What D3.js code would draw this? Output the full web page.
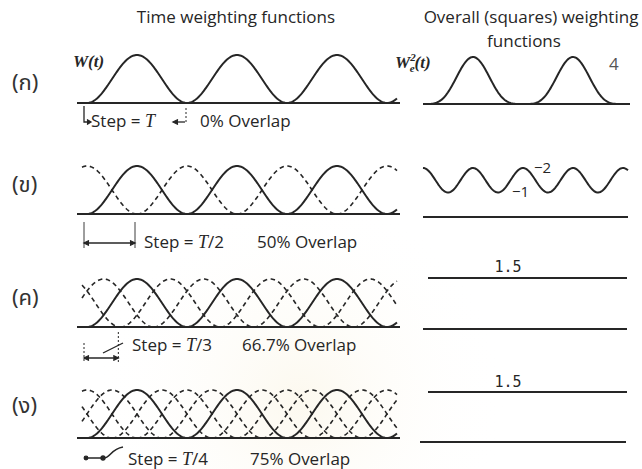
<!DOCTYPE html>
<html><head><meta charset="utf-8">
<script src="https://cdn.jsdelivr.net/npm/d3@7"></script>
<style>body{margin:0;background:#fff}svg{display:block}</style>
</head><body>
<svg id="c" width="642" height="469"></svg>
<script>
// ---- data ----
const rowLabels = ["(ก)", "(ข)", "(ค)", "(ง)"];
const windowsPerStep = [1, 2, 3, 4];              // T / step
const stepLabels = ["T", "T/2", "T/3", "T/4"];
const overlapLabels = ["0% Overlap", "50% Overlap", "66.7% Overlap", "75% Overlap"];
const overallPeak = [4, 2, 1.5, 1.5];             // level of overall weighting
const overallTrough = [null, 1, null, null];
const titles = ["Time weighting functions", "Overall (squares) weighting", "functions"];

// ---- layout ----
const W = 642, H = 469;
const ink = "#262626";
const svg = d3.select("#c");

// faint watermark
const defs = svg.append("defs");
const rg = defs.append("radialGradient").attr("id", "wm");
rg.append("stop").attr("offset", "0%").attr("stop-color", "#f8efd6").attr("stop-opacity", 0.4);
rg.append("stop").attr("offset", "100%").attr("stop-color", "#ffffff").attr("stop-opacity", 0);
svg.append("rect").attr("width", W).attr("height", H).attr("fill", "#fff");
svg.append("circle").attr("cx", 300).attr("cy", 400).attr("r", 210).attr("fill", "url(#wm)");

const baseL = [103, 214, 327, 438];
const baseR = [104, 217, 329, 442];
const hL = 48;
const hR = [47, 49, 51, 50];
const xL = d3.scaleLinear().domain([0, 1]).range([87, 187]);
const xR = d3.scaleLinear().domain([0, 1]).range([423, 523]);

const hann = u => (u <= 0 || u >= 1) ? 0 : 0.5 - 0.5 * Math.cos(2 * Math.PI * u);

const tMinL = -0.05, tMaxL = 3.1;

function windowPts(start, lo, hi) {
  const a = Math.max(start, lo), b = Math.min(start + 1, hi);
  if (b <= a) return null;
  return d3.range(0, 101).map(i => {
    const t = a + (b - a) * i / 100;
    return { t, v: hann(t - start) };
  });
}

const sansFont = "'Open Sans', 'Liberation Sans', sans-serif";
const serifFont = "'Liberation Serif', 'DejaVu Serif', serif";
const fs = 17;

// titles
svg.append("text").attr("x", 236).attr("y", 23).attr("text-anchor", "middle")
  .attr("font-family", sansFont).attr("font-size", fs).attr("fill", ink).text(titles[0]);
svg.append("text").attr("x", 531).attr("y", 23).attr("text-anchor", "middle")
  .attr("font-family", sansFont).attr("font-size", fs).attr("fill", ink).text(titles[1]);
svg.append("text").attr("x", 524).attr("y", 47).attr("text-anchor", "middle")
  .attr("font-family", sansFont).attr("font-size", fs).attr("fill", ink).text(titles[2]);

// W(t) and W_e^2(t)
svg.append("text").attr("x", 73).attr("y", 67).attr("font-family", serifFont)
  .attr("font-style", "italic").attr("font-weight", "bold").attr("font-size", 17).attr("fill", ink)
  .text("W(t)");
const we = svg.append("text").attr("x", 395).attr("y", 68).attr("font-family", serifFont)
  .attr("font-style", "italic").attr("font-weight", "bold").attr("font-size", 17).attr("fill", ink);
we.append("tspan").text("W");
we.append("tspan").attr("font-size", 11).attr("dy", -7).text("2");
we.append("tspan").attr("font-size", 11).attr("dx", -6).attr("dy", 11).text("e");
we.append("tspan").attr("dy", -4).text("(t)");

const line = (x, y) => d3.line().x(d => x(d.t)).y(d => y(d.v)).curve(d3.curveLinear);

rowLabels.forEach((lab, i) => {
  const n = windowsPerStep[i];
  const yL = d3.scaleLinear().domain([0, 1]).range([baseL[i], baseL[i] - hL]);
  const g = svg.append("g");

  // row label
  g.append("text").attr("x", 12).attr("y", [90, 192, 305, 413][i])
    .attr("font-family", "'Noto Sans Thai','Noto Sans','DejaVu Sans',sans-serif")
    .attr("font-size", 22).attr("fill", "#333").text(lab);

  // baseline
  g.append("line").attr("x1", xL(-0.1)).attr("x2", 400).attr("y1", baseL[i]).attr("y2", baseL[i])
    .attr("stroke", ink).attr("stroke-width", 2);

  // dashed (overlapping) windows
  for (let j = 1; j < n; j++) {
    for (let k = -1; k <= 3; k++) {
      const pts = windowPts(k + j / n, tMinL, tMaxL);
      if (!pts) continue;
      g.append("path").attr("d", line(xL, yL)(pts)).attr("fill", "none")
        .attr("stroke", ink).attr("stroke-width", 1.6).attr("stroke-dasharray", "4.5,3.5");
    }
  }
  // solid windows
  for (let k = 0; k <= 3; k++) {
    const pts = windowPts(k, tMinL, tMaxL);
    if (!pts) continue;
    g.append("path").attr("d", line(xL, yL)(pts)).attr("fill", "none")
      .attr("stroke", ink).attr("stroke-width", 2);
  }

  // step text
  const sy = [127, 248, 351, 465][i];
  const sx = [91, 144, 132, 128][i];
  const ox = [200, 257, 242, 250][i];
  const st = g.append("text").attr("x", sx).attr("y", sy).attr("font-family", sansFont)
    .attr("font-size", fs).attr("fill", ink);
  st.append("tspan").text("Step = ");
  const sl = stepLabels[i];
  st.append("tspan").attr("font-family", serifFont).attr("font-style", "italic").attr("font-size", 18).text("T");
  if (sl.length > 1) st.append("tspan").text(sl.slice(1));
  g.append("text").attr("x", ox).attr("y", sy).attr("font-family", sansFont)
    .attr("font-size", fs).attr("fill", ink).text(overlapLabels[i]);

  // step markers
  const s0 = xL(-0.03), s1 = xL(1 / n - 0.02);
  const mk = g.append("g").attr("stroke", ink).attr("fill", "none").attr("stroke-width", 1.3);
  if (i === 0) {
    mk.append("path").attr("d", `M${s0},106 V122 H${s0 + 6}`);
    mk.append("path").attr("d", `M${s0 + 3},119.5 L${s0 + 7},122 L${s0 + 3},124.5`).attr("fill", ink);
    mk.append("path").attr("d", "M174,122 H185");
    mk.append("path").attr("d", "M178,119.5 L173,122 L178,124.5").attr("fill", ink);
    mk.append("line").attr("x1", 186).attr("x2", 186).attr("y1", 108).attr("y2", 124)
      .attr("stroke-dasharray", "2,2").attr("stroke-width", 1);
  } else if (i === 1) {
    mk.append("line").attr("x1", s0).attr("x2", s0).attr("y1", 222).attr("y2", 248).attr("stroke-width", 0.9);
    mk.append("line").attr("x1", s1).attr("x2", s1).attr("y1", 222).attr("y2", 248).attr("stroke-width", 0.9);
    mk.append("line").attr("x1", s0).attr("x2", s1).attr("y1", 243).attr("y2", 243);
    mk.append("path").attr("d", `M${s0 + 5},240.5 L${s0},243 L${s0 + 5},245.5`).attr("fill", ink);
    mk.append("path").attr("d", `M${s1 - 5},240.5 L${s1},243 L${s1 - 5},245.5`).attr("fill", ink);
  } else if (i === 2) {
    mk.append("line").attr("x1", s0).attr("x2", s0).attr("y1", 343).attr("y2", 362)
      .attr("stroke-dasharray", "2,2").attr("stroke-width", 1);
    mk.append("line").attr("x1", s1).attr("x2", s1).attr("y1", 332).attr("y2", 362)
      .attr("stroke-dasharray", "2,2").attr("stroke-width", 1);
    mk.append("line").attr("x1", s0).attr("x2", s1).attr("y1", 358).attr("y2", 358);
    mk.append("path").attr("d", `M${s0 + 5},355.5 L${s0},358 L${s0 + 5},360.5`).attr("fill", ink);
    mk.append("path").attr("d", `M${s1 - 5},355.5 L${s1},358 L${s1 - 5},360.5`).attr("fill", ink);
    mk.append("line").attr("x1", 103).attr("x2", 123).attr("y1", 353).attr("y2", 343);
  } else {
    mk.append("path").attr("d", `M${s0},458 H104 C110,458 111,449 123,447`).attr("stroke-width", 1.6);
    mk.append("circle").attr("cx", s0 + 2).attr("cy", 458).attr("r", 1.8).attr("fill", ink);
    mk.append("circle").attr("cx", 103).attr("cy", 458).attr("r", 2).attr("fill", ink);
  }

  // ---- right panel: overall (squares) weighting ----
  const yR = d3.scaleLinear().domain([0, overallPeak[i]]).range([baseR[i], baseR[i] - hR[i]]);
  const rx0 = [423, 423, 423, 420][i], rx1 = [630, 628, 627, 626][i];
  g.append("line").attr("x1", rx0).attr("x2", rx1).attr("y1", baseR[i]).attr("y2", baseR[i])
    .attr("stroke", ink).attr("stroke-width", 2);

  const tr = i < 2 ? [0, [2.07, 2.05][i]] : [xR.invert(428), xR.invert(627)];
  const sumSq = t => {
    let s = 0;
    for (let m = -2 * n; m <= 4 * n; m++) s += Math.pow(hann(t - m / n), 2);
    return s;
  };
  const raw = d3.range(0, 201).map(k => {
    const t = tr[0] + (tr[1] - tr[0]) * k / 200;
    return { t, v: sumSq(t) };
  });
  const mx = d3.max(raw, d => d.v);
  const pts = raw.map(d => ({ t: d.t, v: d.v / mx * overallPeak[i] }));
  g.append("path").attr("d", line(xR, yR)(pts)).attr("fill", "none")
    .attr("stroke", ink).attr("stroke-width", 2);

  // annotations
  if (i === 0) {
    g.append("text").attr("x", 609).attr("y", 70).attr("font-family", sansFont)
      .attr("font-size", 17).attr("fill", "#555").text(overallPeak[i]);
  } else if (i === 1) {
    g.append("text").attr("x", 534).attr("y", 173).attr("font-family", sansFont)
      .attr("font-size", 15).attr("fill", ink).text("−" + overallPeak[i]);
    g.append("text").attr("x", 512).attr("y", 197).attr("font-family", sansFont)
      .attr("font-size", 15).attr("fill", ink).text("−" + overallTrough[i]);
  } else {
    g.append("text").attr("x", 508).attr("y", [0, 0, 272, 387][i]).attr("text-anchor", "middle")
      .attr("font-family", "'DejaVu Sans Mono', monospace")
      .attr("font-size", 15).attr("fill", ink).text(overallPeak[i].toFixed(1));
  }
});
</script>
</body></html>
